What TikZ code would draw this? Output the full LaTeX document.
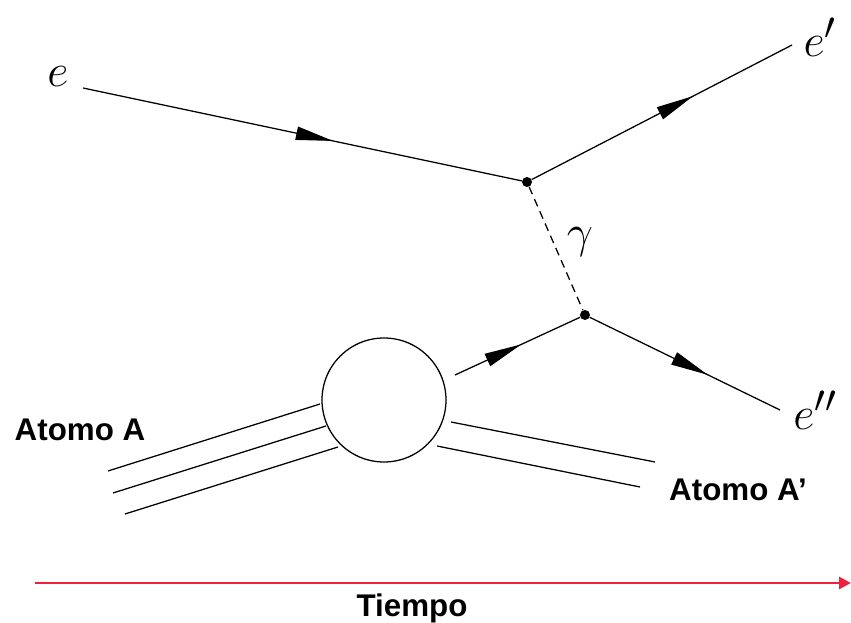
\documentclass[tikz,border=0pt]{standalone}
\usepackage{fontspec}
\usepackage{graphicx}
\setsansfont{Liberation Sans}
\usetikzlibrary{arrows.meta,decorations.markings}
\definecolor{timered}{RGB}{238,32,64}
\newcommand{\biglbl}[1]{\scalebox{1.4}{$#1$}}
\tikzset{
  fermion/.style={line width=0.95pt, postaction={decorate},
    decoration={markings, mark=at position #1 with {\arrow{Triangle[length=28pt,width=10pt]}}}},
  plain/.style={line width=0.95pt},
  vdot/.style={circle, fill=black, inner sep=0pt, minimum size=7.5pt},
  mlabel/.style={font=\fontsize{24.88}{28}\selectfont, inner sep=0pt},
  tlabel/.style={font=\sffamily\bfseries\fontsize{23.5}{27}\selectfont, inner sep=0pt},
}
\begin{document}
\begin{tikzpicture}[x=0.75pt,y=-0.75pt]
\useasboundingbox (0,0) rectangle (851,623);
% vertices
\node[vdot] (v1) at (527,182) {};
\node[vdot] (v2) at (585,315) {};
\node[circle, draw, line width=0.95pt, minimum size=93pt, inner sep=0pt] (blob) at (384,400) {};
% labels
\node[mlabel] (le) at (58,77) {\biglbl{e}};
\node[mlabel] (lep) at (820,37) {\biglbl{e'}};
\node[mlabel] (lepp) at (815,410) {\biglbl{e''}};
\node[mlabel] (lg) at (580,242) {\biglbl{\gamma}};
\node[tlabel] (la) at (80,430) {Atomo A};
\node[tlabel] (lap) at (738,490) {Atomo A'};
\node[tlabel] (lt) at (412,608) {Tiempo};
% coordinates
\coordinate (ein) at (83,88);
\coordinate (eout) at (792,45);
\coordinate (eppout) at (780,410);
\coordinate (bout) at (455,375);
\coordinate (l1a) at (108,471);
\coordinate (l1b) at (320,404);
\coordinate (l2a) at (113,493);
\coordinate (l2b) at (326,426);
\coordinate (l3a) at (125,514);
\coordinate (l3b) at (338,447);
\coordinate (r1a) at (451,422);
\coordinate (r1b) at (655,462);
\coordinate (r2a) at (437,446);
\coordinate (r2b) at (640,487);
\coordinate (t0) at (35,583);
\coordinate (t1) at (851,583);
% electron lines
\draw[fermion=0.57] (ein) -- (v1);
\draw[fermion=0.62] (v1) -- (eout);
\draw[fermion=0.53] (bout) -- (v2);
\draw[fermion=0.62] (v2) -- (eppout);
\draw[line width=0.95pt, dash pattern=on 6pt off 4pt] (v1) -- (v2);
% atom lines
\draw[plain] (l1a) -- (l1b);
\draw[plain] (l2a) -- (l2b);
\draw[plain] (l3a) -- (l3b);
\draw[plain] (r1a) -- (r1b);
\draw[plain] (r2a) -- (r2b);
% time arrow
\draw[timered, line width=2pt, -{Triangle[length=9pt,width=9pt]}] (t0) -- (t1);
\end{tikzpicture}
\end{document}
